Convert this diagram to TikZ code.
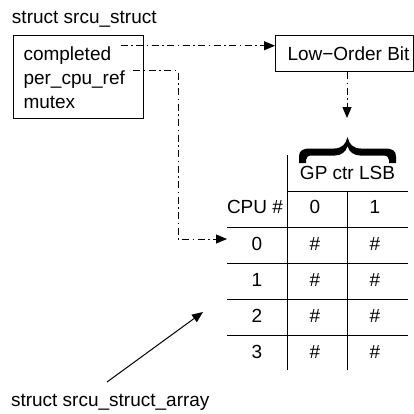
\documentclass[tikz,border=0pt]{standalone}
\usepackage{fontspec}
\setmainfont{Liberation Sans}
\usetikzlibrary{arrows.meta,calc}
\begin{document}
\begin{tikzpicture}[x=1pt,y=-1pt,
  font=\fontsize{19}{23}\selectfont, line width=1pt,
  lbl/.style={inner sep=0pt, anchor=base west},
  cell/.style={inner sep=0pt, anchor=base},
  dd/.style={dash pattern=on 7pt off 3.5pt on 1.5pt off 3.5pt},
  tip/.style={-{Triangle[length=11pt,width=9pt]}},
  grid/.style={line width=1pt}]
\useasboundingbox (0,0) rectangle (414,413);

% struct srcu_struct
\node[lbl] (title) at (11.5,23) {struct srcu\_struct};
\node[draw, minimum width=130pt, minimum height=83pt, inner sep=0pt, anchor=north west] (box) at (13,35) {};
\node[lbl] (f1) at (23,60) {completed};
\node[lbl] (f2) at (23,84) {per\_cpu\_ref};
\node[lbl] (f3) at (23,108) {mutex};

% Low-Order Bit
\node[draw, minimum width=138pt, minimum height=36pt, inner sep=0pt, anchor=north west] (lob) at (275,35) {\hspace{8pt}Low−Order Bit};

% table
\draw[grid] (287,155) -- (287,370);
\draw[grid] (287,191) -- (408,191);
\draw[grid] (347,191) -- (347,370);
\foreach \y in {227,263,299,335} \draw[grid] (227,\y) -- (408,\y);

% brace
\fill (299,163) -- (299,157) .. controls (299,151) and (302,148.5) .. (310,148.5)
  -- (334,148.5) .. controls (342,148.5) and (346,144) .. (347.5,137)
  .. controls (349,144) and (353,148.5) .. (361,148.5)
  -- (385,148.5) .. controls (393,148.5) and (396,151) .. (396,157)
  -- (396,163) -- (389,163) -- (389,160) .. controls (389,157) and (387,155.5) .. (383,155.5)
  -- (360,155.5) .. controls (354,155.5) and (349,152) .. (347.5,146)
  .. controls (346,152) and (341,155.5) .. (335,155.5)
  -- (312,155.5) .. controls (308,155.5) and (306,157) .. (306,160)
  -- (306,163) -- cycle;

\node[cell] (gp) at (347.5,179) {GP ctr LSB};
\node[cell] (cpu) at (255,213.5) {CPU \#};
\node[cell] (c0) at (315,213.5) {0};
\node[cell] (c1) at (375,213.5) {1};
\foreach \r/\b in {0/250,1/286,2/322,3/358} {
  \node[cell] (r\r) at (257,\b) {\r};
  \node[cell] (a\r) at (315,\b) {\#};
  \node[cell] (b\r) at (375,\b) {\#};
}

% connectors
\coordinate (s1) at ($(f1.north east)+(9,0)$);
\draw[dd,tip] (s1) -- (s1 -| lob.west);

\coordinate (s2) at ($(f2.north east)+(8,1)$);
\coordinate (bend) at (178,239);
\coordinate (r0in) at (227,239);
\draw[dd,tip] (s2) -| (bend) -- (r0in);

\coordinate (bt) at (347,118);
\draw[dd,tip] (bt |- lob.south) -- (bt);

% struct srcu_struct_array
\node[lbl] (arr) at (10.5,406) {struct srcu\_struct\_array};
\coordinate (sa) at (107,382);
\coordinate (sb) at (203,312);
\draw[tip] (sa) -- (sb);
\end{tikzpicture}
\end{document}
